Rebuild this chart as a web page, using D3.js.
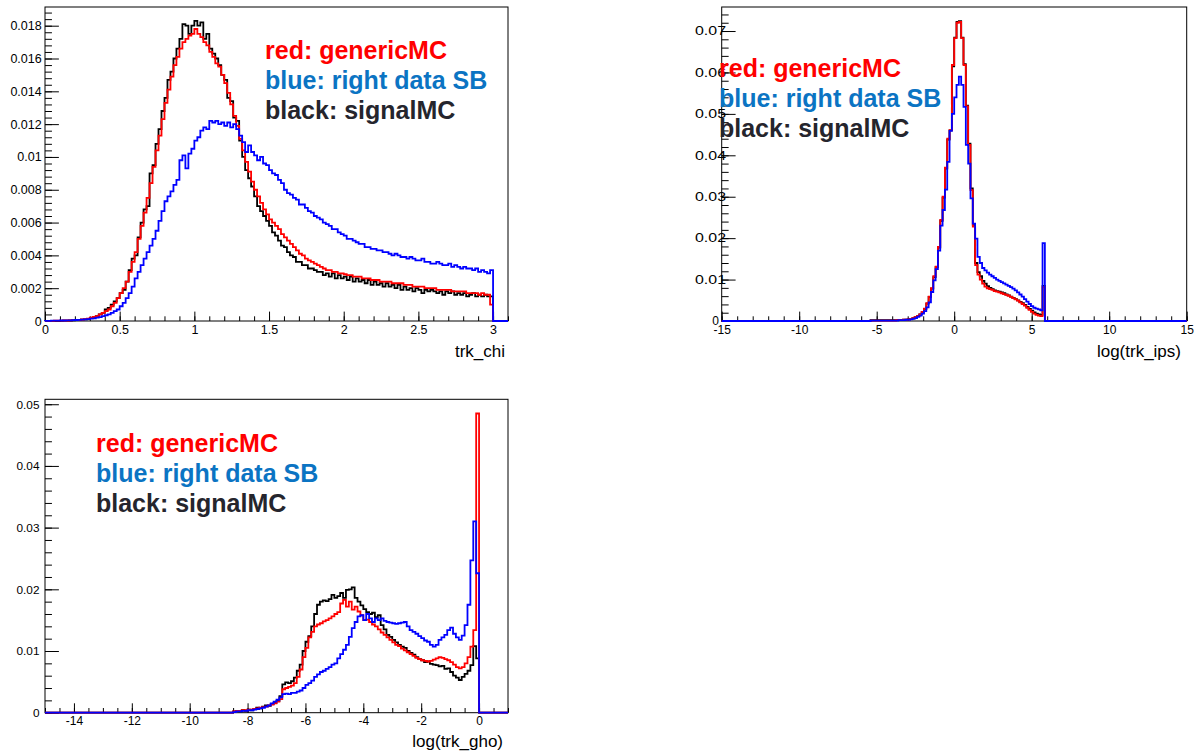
<!DOCTYPE html>
<html><head><meta charset="utf-8">
<script src="https://cdn.jsdelivr.net/npm/d3@7"></script>
<style>body{margin:0;background:#fff;} svg text{font-family:"Liberation Sans",Arial,Helvetica,sans-serif;}</style>
</head><body><svg id="c" width="1200" height="755"></svg>
<script>
// ---------------- DATA ----------------
const legendLabels = ["red: genericMC", "blue: right data SB", "black: signalMC"];
const axisTitles = ["trk_chi", "log(trk_ips)", "log(trk_gho)"];

// Panel 1: trk_chi, bins of width 0.02 starting at 0
const chiBinStart = 0, chiBinWidth = 0.02;
const chiXTicks = [0, 0.5, 1, 1.5, 2, 2.5, 3];
const chiYTicks = [0, 0.002, 0.004, 0.006, 0.008, 0.01, 0.012, 0.014, 0.016, 0.018];
const chiRed = [
0.00001,0.00001,0.00001,0.00002,0.00002,0.00002,0.00003,0.00003,0.00004,0.00005,
0.00006,0.00007,0.00009,0.00011,0.00014,0.0002,0.00025,0.0003,0.0004,0.0005,
0.0006,0.0007,0.0009,0.0011,0.0014,0.0017,0.0020,0.0024,0.0030,0.0036,
0.0042,0.0050,0.0058,0.0066,0.0075,0.0084,0.0094,0.0104,0.0113,0.0123,
0.0133,0.0141,0.0149,0.0156,0.0161,0.0166,0.0170,0.0172,0.0174,0.0175,
0.0178,0.0175,0.0173,0.0170,0.0168,0.0164,0.0161,0.0157,0.0155,0.0150,
0.0145,0.0139,0.0132,0.0125,0.0119,0.0111,0.0104,0.0097,0.0091,0.0085,
0.0080,0.0076,0.0072,0.0068,0.0065,0.0062,0.0060,0.0058,0.0056,0.0053,
0.0051,0.0049,0.0047,0.0045,0.0043,0.0041,0.0040,0.0038,0.0037,0.0036,
0.0035,0.0034,0.0033,0.0032,0.0031,0.0031,0.0030,0.0030,0.0029,0.0029,
0.00285,0.0028,0.0028,0.0027,0.0027,0.0027,0.0026,0.0026,0.0026,0.0025,
0.0025,0.0025,0.0024,0.0024,0.0024,0.0024,0.0023,0.0023,0.0023,0.0023,
0.0022,0.0022,0.0022,0.0021,0.0021,0.0021,0.0021,0.0020,0.0020,0.0020,
0.0020,0.0019,0.0019,0.0019,0.0019,0.0019,0.0018,0.0018,0.0018,0.0018,
0.0018,0.0017,0.0017,0.0017,0.0017,0.0016,0.0017,0.0016,0.0016,0.0010];
const chiBlack = [
0,0,0,0.00001,0,0.00001,0.00002,0.00002,0.00003,0.00004,
0.00005,0.00006,0.00008,0.00010,0.00013,0.00018,0.00024,0.0003,0.0004,0.0005,
0.0007,0.0008,0.0010,0.0012,0.0014,0.0017,0.0019,0.0024,0.0031,0.0038,
0.0040,0.0051,0.0060,0.0068,0.0070,0.0090,0.0095,0.0108,0.0117,0.0128,
0.0136,0.0147,0.0152,0.0160,0.0166,0.0172,0.0181,0.0180,0.0175,0.0180,
0.0183,0.0180,0.0182,0.0172,0.0175,0.0166,0.0163,0.0160,0.0156,0.0150,
0.0147,0.0136,0.0134,0.0124,0.0122,0.0110,0.0100,0.0092,0.0087,0.0082,
0.0076,0.0070,0.0067,0.0064,0.0061,0.0058,0.0054,0.0052,0.0049,0.0046,
0.0045,0.0042,0.0040,0.0039,0.0036,0.0036,0.0034,0.0034,0.0032,0.0032,
0.0031,0.0030,0.0030,0.0028,0.0029,0.0027,0.0029,0.0026,0.0028,0.0026,
0.0027,0.0025,0.0027,0.0024,0.0026,0.0024,0.0025,0.0023,0.0025,0.0022,
0.0024,0.0022,0.0023,0.0021,0.0023,0.0021,0.0022,0.0020,0.0022,0.0019,
0.0021,0.0019,0.0020,0.0018,0.0020,0.0019,0.0017,0.0019,0.0018,0.0019,
0.0018,0.0017,0.0018,0.0016,0.0018,0.0017,0.0018,0.0016,0.0017,0.0016,
0.0017,0.0015,0.0016,0.0017,0.0015,0.0016,0.0015,0.0016,0.0015,0.0015];
const chiBlue = [
0.00001,0.00001,0.00002,0.00002,0.00002,0.00003,0.00003,0.00004,0.00004,0.00005,
0.00006,0.00007,0.00008,0.00010,0.00012,0.00014,0.00016,0.0002,0.00024,0.0003,
0.00035,0.0004,0.0005,0.0006,0.0007,0.0009,0.0011,0.0014,0.0017,0.0021,
0.0026,0.0030,0.0034,0.0038,0.0042,0.0046,0.0050,0.0055,0.0061,0.0067,
0.0073,0.0076,0.0079,0.0083,0.0086,0.0098,0.0101,0.0093,0.0102,0.0105,
0.0110,0.0112,0.0116,0.0118,0.0117,0.0122,0.0121,0.0122,0.0120,0.0121,
0.0119,0.0121,0.0118,0.0120,0.0117,0.0113,0.0109,0.0103,0.0107,0.0103,
0.0101,0.0098,0.0100,0.0096,0.0095,0.0092,0.0090,0.0089,0.0086,0.0084,
0.0080,0.0078,0.0077,0.0075,0.0074,0.0071,0.0071,0.0069,0.0067,0.0066,
0.0064,0.0063,0.0062,0.0060,0.0059,0.0058,0.0056,0.0056,0.0054,0.0053,
0.0052,0.0050,0.0050,0.0049,0.0048,0.0047,0.0047,0.0045,0.0045,0.0044,
0.0044,0.0043,0.0043,0.0042,0.0042,0.0041,0.0040,0.0041,0.0040,0.0039,
0.0039,0.0038,0.0039,0.0038,0.0037,0.0037,0.0038,0.0036,0.0036,0.0035,
0.0035,0.0036,0.0035,0.0034,0.0034,0.0035,0.0033,0.0034,0.0033,0.0032,
0.0033,0.0032,0.0032,0.0031,0.0032,0.0030,0.0031,0.0030,0.0029,0.0031];

// Panel 2: log(trk_ips), bins of width 0.15 starting at -5.4
const ipsBinStart = -5.4, ipsBinWidth = 0.15;
const ipsXTicks = [-15, -10, -5, 0, 5, 10, 15];
const ipsYTicks = [0, 0.01, 0.02, 0.03, 0.04, 0.05, 0.06, 0.07];
const ipsRed = [
0.0001,0.0001,0.0001,0.0001,0.0001,0.0001,0.0001,0.0001,0.0001,0.0001,
0.0001,0.0002,0.0002,0.0002,0.0003,0.0003,0.0004,0.0005,0.0007,0.0009,
0.0012,0.0016,0.0022,0.0030,0.0043,0.0059,0.0079,0.0108,0.0131,0.0179,
0.0244,0.0300,0.0370,0.0440,0.0461,0.0618,0.0683,0.0720,0.0722,0.0683,
0.0618,0.0518,0.0425,0.0316,0.0228,0.0135,0.0112,0.0100,0.0090,0.0083,
0.0079,0.0077,0.0075,0.0072,0.0071,0.0069,0.0067,0.0065,0.0063,0.0061,
0.0058,0.0055,0.0052,0.0049,0.0045,0.0041,0.0037,0.0032,0.0027,0.0022,
0.0018,0.0015,0.0013,0.0012,0.0082];
const ipsBlack = [
0.0002,0.0002,0.0002,0.0002,0.0002,0.0002,0.0002,0.0002,0.0002,0.0002,
0.0002,0.0002,0.0002,0.0002,0.0003,0.0003,0.0004,0.0005,0.0007,0.0009,
0.0012,0.0016,0.0021,0.0029,0.0042,0.0058,0.0078,0.0106,0.0130,0.0177,
0.0242,0.0298,0.0368,0.0438,0.0460,0.0615,0.0684,0.0722,0.0724,0.0684,
0.0620,0.0520,0.0428,0.0320,0.0232,0.0140,0.0118,0.0108,0.0097,0.0090,
0.0084,0.0080,0.0077,0.0074,0.0072,0.0071,0.0069,0.0067,0.0064,0.0062,
0.0059,0.0056,0.0053,0.0050,0.0046,0.0043,0.0039,0.0034,0.0029,0.0025,
0.0021,0.0018,0.0016,0.0015,0.0085];
const ipsBlue = [
0.0001,0.0001,0.0001,0.0001,0.0001,0.0001,0.0001,0.0001,0.0001,0.0001,
0.0001,0.0001,0.0002,0.0002,0.0002,0.0003,0.0003,0.0004,0.0005,0.0007,
0.0010,0.0013,0.0018,0.0024,0.0033,0.0045,0.0070,0.0098,0.0125,0.0170,
0.0230,0.0268,0.0317,0.0384,0.0459,0.0500,0.0540,0.0570,0.0590,0.0570,
0.0517,0.0425,0.0380,0.0296,0.0235,0.0199,0.0155,0.0140,0.0128,0.0122,
0.0117,0.0112,0.0108,0.0104,0.0100,0.0097,0.0094,0.0091,0.0088,0.0085,
0.0082,0.0078,0.0074,0.0069,0.0064,0.0059,0.0053,0.0047,0.0041,0.0036,
0.0032,0.0030,0.0028,0.0026,0.0188];

// Panel 3: log(trk_gho), bins of width 0.1 starting at -8.5
const ghoBinStart = -8.5, ghoBinWidth = 0.1;
const ghoXTicks = [-14, -12, -10, -8, -6, -4, -2, 0];
const ghoYTicks = [0, 0.01, 0.02, 0.03, 0.04, 0.05];
const ghoRed = [
0.0002,0.0003,0.0003,0.0004,0.0004,0.0005,0.0005,0.0006,0.0007,0.0008,
0.0009,0.0010,0.0012,0.0013,0.0015,0.0018,0.0022,0.0038,0.0040,0.0042,
0.0044,0.0048,0.0058,0.0070,0.0090,0.0105,0.0122,0.0131,0.0140,0.0143,
0.0145,0.0148,0.0150,0.0153,0.0156,0.0160,0.0163,0.0177,0.0183,0.0172,
0.0180,0.0167,0.0172,0.0164,0.0158,0.0150,0.0151,0.0147,0.0143,0.0140,
0.0135,0.0130,0.0126,0.0122,0.0118,0.0114,0.0110,0.0108,0.0104,0.0101,
0.0098,0.0095,0.0092,0.0089,0.0087,0.0085,0.0084,0.0083,0.0084,0.0086,
0.0088,0.0090,0.0089,0.0087,0.0085,0.0082,0.0078,0.0074,0.0072,0.0074,
0.0080,0.0090,0.0107,0.0134,0.0485];
const ghoBlack = [
0.0002,0.0003,0.0002,0.0004,0.0003,0.0005,0.0004,0.0006,0.0008,0.0007,
0.0010,0.0012,0.0011,0.0014,0.0016,0.0019,0.0027,0.0046,0.0049,0.0048,
0.0051,0.0057,0.0068,0.0078,0.0100,0.0115,0.0124,0.0140,0.0160,0.0175,
0.0180,0.0182,0.0181,0.0184,0.0191,0.0186,0.0189,0.0194,0.0186,0.0199,
0.0200,0.0203,0.0186,0.0180,0.0174,0.0168,0.0163,0.0160,0.0162,0.0155,
0.0158,0.0142,0.0135,0.0126,0.0123,0.0118,0.0114,0.0110,0.0107,0.0105,
0.0100,0.0097,0.0094,0.0090,0.0087,0.0085,0.0082,0.0083,0.0079,0.0078,
0.0077,0.0075,0.0076,0.0071,0.0072,0.0066,0.0060,0.0057,0.0053,0.0058,
0.0063,0.0068,0.0077,0.0108,0.0088];
const ghoBlue = [
0.0001,0.0002,0.0002,0.0003,0.0003,0.0004,0.0004,0.0005,0.0006,0.0007,
0.0008,0.0010,0.0012,0.0015,0.0018,0.0021,0.0025,0.0030,0.0031,0.0030,
0.0032,0.0032,0.0034,0.0036,0.0040,0.0045,0.0048,0.0052,0.0058,0.0062,
0.0066,0.0068,0.0071,0.0074,0.0078,0.0080,0.0088,0.0095,0.0102,0.0110,
0.0123,0.0137,0.0147,0.0156,0.0158,0.0150,0.0160,0.0153,0.0147,0.0153,
0.0150,0.0153,0.0149,0.0147,0.0146,0.0145,0.0144,0.0145,0.0146,0.0147,
0.0140,0.0134,0.0131,0.0128,0.0124,0.0121,0.0117,0.0115,0.0110,0.0107,
0.0110,0.0118,0.0122,0.0126,0.0134,0.0138,0.0128,0.0122,0.0118,0.0125,
0.0142,0.0175,0.0247,0.0310,0.0226];

// ---------------- DRAWING ----------------
const svg = d3.select("#c");
const fmt = v => String(+v.toFixed(6));
const lineColors = {red: "#ff0000", blue: "#0000ff", black: "#000000"};
const legendColors = ["#ff0000", "#0b74c3", "#25252d"];

function minorValues(dom, step) {
  const n = Math.round((dom[1] - dom[0]) / step);
  const start = Math.ceil(dom[0] / step - 1e-9) * step;
  const out = [];
  for (let i = 0; i <= n + 1; i++) {
    const v = +(start + i * step).toFixed(8);
    if (v >= dom[0] - 1e-9 && v <= dom[1] + 1e-9) out.push(v);
  }
  return out;
}

function drawPanel(c) {
  const x = d3.scaleLinear().domain(c.xDomain).range([c.left, c.right]);
  const y = d3.scaleLinear().domain(c.yDomain).range([c.bottom, c.top]);
  const g = svg.append("g").attr("color", "#000");
  const xLen = 9.4, yLen = 13.9;

  // minor ticks
  g.append("g").attr("transform", `translate(0,${c.bottom})`)
    .call(d3.axisBottom(x).tickValues(minorValues(c.xDomain, c.xMinor)).tickSize(-xLen / 2).tickFormat(""))
    .call(s => s.select(".domain").remove());
  g.append("g").attr("transform", `translate(${c.left},0)`)
    .call(d3.axisLeft(y).tickValues(minorValues(c.yDomain, c.yMinor)).tickSize(-yLen / 2).tickFormat(""))
    .call(s => s.select(".domain").remove());

  // major ticks + labels
  const gx = g.append("g").attr("transform", `translate(0,${c.bottom})`)
    .call(d3.axisBottom(x).tickValues(c.xTicks).tickSize(-xLen).tickPadding(4).tickFormat(fmt))
    .call(s => s.select(".domain").remove());
  gx.attr("font-size", c.xFont).attr("font-family", null);
  gx.selectAll("text").attr("fill", "#000");

  const gy = g.append("g").attr("transform", `translate(${c.left},0)`)
    .call(d3.axisLeft(y).tickValues(c.yTicks).tickSize(-yLen).tickPadding(c.yPad).tickFormat(fmt))
    .call(s => s.select(".domain").remove());
  gy.attr("font-size", c.yFont).attr("font-family", null);
  gy.selectAll("text").attr("fill", "#000");
  if (c.yStretch) {
    gy.selectAll("text").filter(d => d !== 0)
      .attr("textLength", c.yStretch).attr("lengthAdjust", "spacingAndGlyphs");
    gy.selectAll("text").filter(d => d === 0).attr("dx", -7);
  }

  // frame
  g.append("rect").attr("x", c.left).attr("y", c.top)
    .attr("width", c.right - c.left).attr("height", c.bottom - c.top)
    .attr("fill", "none").attr("stroke", "#000").attr("stroke-width", 1);

  // histograms
  const line = d3.line().x(d => x(d[0])).y(d => y(d[1])).curve(d3.curveStepAfter);
  c.series.forEach(s => {
    const pts = [[c.xDomain[0], 0]];
    s.values.forEach((v, i) => pts.push([c.binStart + i * c.binWidth, v]));
    pts.push([c.binStart + s.values.length * c.binWidth, 0]);
    pts.push([c.xDomain[1], 0]);
    g.append("path").attr("d", line(pts)).attr("fill", "none")
      .attr("stroke", lineColors[s.color]).attr("stroke-width", 1.8)
      .attr("stroke-linejoin", "miter");
  });

  // legend
  legendLabels.forEach((t, i) => {
    g.append("text").attr("x", c.legX).attr("y", c.legY + i * 30)
      .attr("font-size", 25).attr("font-weight", "bold")
      .attr("fill", legendColors[i]).text(t);
  });

  // axis title
  g.append("text").attr("x", c.titleX).attr("y", c.titleY)
    .attr("text-anchor", "end").attr("font-size", 17).attr("fill", "#000").text(c.title);
}

drawPanel({
  left: 45, right: 508, top: 7, bottom: 321,
  xDomain: [0, 3.1], yDomain: [0, 0.01914],
  xTicks: chiXTicks, yTicks: chiYTicks, xMinor: 0.1, yMinor: 0.0004,
  xFont: 12.5, yFont: 12.5, yPad: 3.3,
  binStart: chiBinStart, binWidth: chiBinWidth,
  series: [{color: "black", values: chiBlack}, {color: "red", values: chiRed}, {color: "blue", values: chiBlue}],
  legX: 265, legY: 59, title: axisTitles[0], titleX: 505, titleY: 357
});

drawPanel({
  left: 721.7, right: 1186.7, top: 7, bottom: 321,
  xDomain: [-15, 15], yDomain: [0, 0.0758],
  xTicks: ipsXTicks, yTicks: ipsYTicks, xMinor: 1, yMinor: 0.002,
  xFont: 12, yFont: 12, yPad: -4.3, yStretch: 31,
  binStart: ipsBinStart, binWidth: ipsBinWidth,
  series: [{color: "black", values: ipsBlack}, {color: "red", values: ipsRed}, {color: "blue", values: ipsBlue}],
  legX: 719, legY: 77, title: axisTitles[1], titleX: 1181, titleY: 357
});

drawPanel({
  left: 45, right: 508, top: 399.3, bottom: 712.7,
  xDomain: [-15, 1], yDomain: [0, 0.0508],
  xTicks: ghoXTicks, yTicks: ghoYTicks, xMinor: 0.5, yMinor: 0.002,
  xFont: 12, yFont: 11.8, yPad: 5.5,
  binStart: ghoBinStart, binWidth: ghoBinWidth,
  series: [{color: "black", values: ghoBlack}, {color: "red", values: ghoRed}, {color: "blue", values: ghoBlue}],
  legX: 96, legY: 452, title: axisTitles[2], titleX: 503, titleY: 747
});
</script></body></html>
